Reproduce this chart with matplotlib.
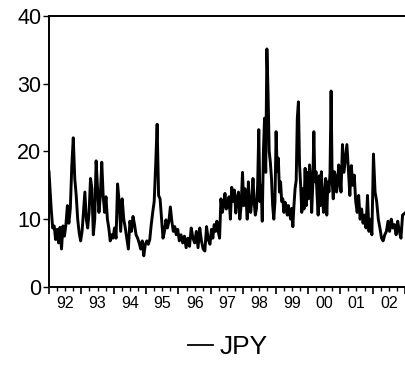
import numpy as np
import matplotlib
matplotlib.use("Agg")
import matplotlib.pyplot as plt
from matplotlib.lines import Line2D

plt.rcParams['font.family'] = ['Liberation Sans', 'DejaVu Sans']

# JPY values, grouped by year (roughly evenly spaced inside each year)
jpy_by_year = {
    1992: [17, 11.5, 8.7, 9, 7, 8.5, 6.5, 8.8, 5.6, 9, 7.5, 9.2, 12, 9.4, 11.6, 17.9, 22, 16, 13.5, 10, 8, 6.8],
    1993: [8.2, 11, 14, 10, 8.7, 11, 16, 14.5, 7.7, 10, 18.6, 14.5, 11, 13.5, 18.4, 13.5, 11, 13.3, 10, 8.7, 6.8, 7.7, 7.2],
    1994: [8.7, 7.2, 15.2, 12.6, 8.2, 13, 10, 8.7, 7.2, 5.6, 9.7, 8.2, 10.4, 9.2, 7.7, 7.2, 6.5, 5.6, 6.8, 4.6, 6.3],
    1995: [6.8, 6.3, 7, 9.2, 11, 12.6, 17.9, 24, 13.5, 13, 10, 7.2, 8.2, 9.9, 8.7, 9.7, 11.8, 9.7, 8.2, 8.9, 7.7, 8.5],
    1996: [6.8, 7.7, 6.5, 7.5, 5.8, 7.2, 6, 8.7, 7.2, 6.5, 8.2, 5.8, 8.7, 6.8, 5.6, 5.3, 8.9, 7, 6.3],
    1997: [8.5, 7.2, 9.2, 8.2, 9.7, 8.2, 7.2, 13, 11, 12, 13.8, 11.5, 12, 13.3, 10, 14.7, 12.6, 14.3, 10.9, 13, 14, 10, 12, 16.9],
    1998: [12, 14.5, 13, 10, 15.5, 12, 11, 13, 16, 12.5, 10.6, 11.6, 15, 23.2, 12.6, 15, 9.7, 20, 24.9, 16.9,
           35.1, 28.8, 20, 18.4, 16, 12, 10, 12.6],
    1999: [22.9, 17, 19, 14, 15.5, 12.6, 13, 11, 12.5, 12, 10.6, 12, 11, 10, 11.6, 8.9, 12, 14.5, 15.7, 24.9,
           27.3, 18, 15, 11, 14.5, 11.5, 17.5, 12, 16.9],
    2000: [13, 18, 16, 11, 15, 22.9, 15.5, 17, 13.5, 10.6, 16.4, 12, 17, 13, 11, 14, 16, 10.6, 15.5, 14, 16.9,
           28.9, 15.5, 13, 17, 16.4, 14, 15, 18, 16.9],
    2001: [14, 21, 16.9, 19, 21, 17.4, 13.5, 17.9, 15, 16.5, 12.6, 11, 13.5, 10, 11.5, 9.4, 10.6, 8.7, 13.5, 8.2, 10, 7.7],
    2002: [19.6, 14, 12.6, 10, 8.7, 7.2, 6.8, 7.7, 8.2, 9.7, 8.2, 10, 8.7, 9.2, 7.7, 9.7, 8.2, 7.2, 10.6, 10.9],
}
year_labels = ['92', '93', '94', '95', '96', '97', '98', '99', '00', '01', '02']

t = []
jpy = []
for yr, vals in jpy_by_year.items():
    n = len(vals)
    t += [yr + (i + 0.5) / n for i in range(n)]
    jpy += vals
t[0] = 1992.0
t[-1] = 2003.0

fig = plt.figure(figsize=(4.06, 3.66), dpi=100)
ax = fig.add_axes([49 / 406, 79 / 366, 356 / 406, 271.3 / 366])

ax.plot(t, jpy, color='black', lw=2.1)

ax.set_xlim(1992, 2003)
ax.set_ylim(0, 40)
ax.spines['right'].set_visible(False)
for s in ['left', 'bottom', 'top']:
    ax.spines[s].set_linewidth(1.4)

ax.set_yticks([0, 10, 20, 30, 40])
ax.tick_params(axis='y', direction='out', length=4, width=1, pad=1.5, labelsize=15.5)

years = np.arange(1992, 2004)
ax.set_xticks(years)
ax.set_xticklabels([])
ax.set_xticks(np.arange(1992, 2003, 0.25), minor=True)
ax.tick_params(axis='x', which='major', direction='out', length=5, width=1.2)
ax.tick_params(axis='x', which='minor', direction='out', length=3, width=1)

sec = ax.secondary_xaxis('bottom')
sec.set_xticks(years[:-1] + 0.5)
sec.set_xticklabels(year_labels)
sec.tick_params(length=0, pad=6.5, labelsize=11.5)
sec.spines['bottom'].set_visible(False)

handle = Line2D([], [], color='black', lw=1.3)
fig.legend([handle], ['JPY'], loc='center', bbox_to_anchor=(228 / 406, 19 / 366), frameon=False,
           fontsize=19, handlelength=0.95, handletextpad=0.25, borderpad=0)

fig.savefig('out.png', dpi=100)
